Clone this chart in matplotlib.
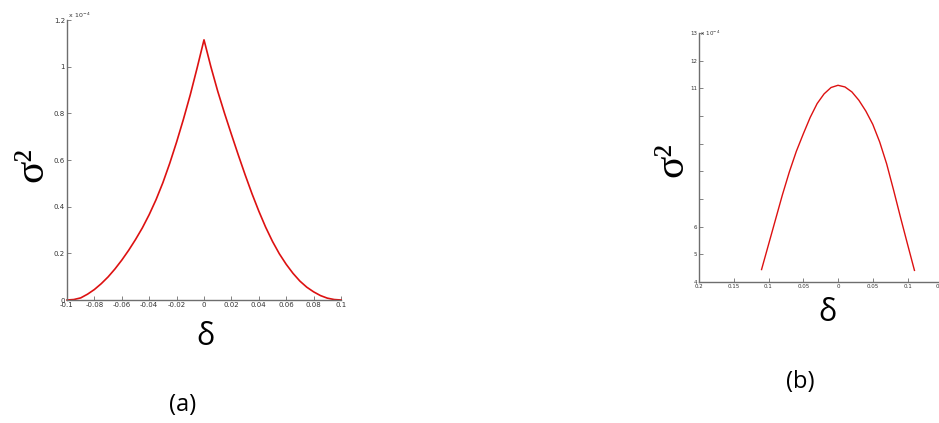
import numpy as np
import matplotlib
matplotlib.use("Agg")
import matplotlib.pyplot as plt

# panel (a): variance vs delta (units of 1e-4)
delta_a = [-0.1, -0.095, -0.09, -0.085, -0.08, -0.075, -0.07, -0.065, -0.06, -0.055,
           -0.05, -0.045, -0.04, -0.035, -0.03, -0.025, -0.02, -0.015, -0.01, -0.005,
           0.0, 0.005, 0.01, 0.015, 0.02, 0.025, 0.03, 0.035, 0.04, 0.045,
           0.05, 0.055, 0.06, 0.065, 0.07, 0.075, 0.08, 0.085, 0.09, 0.095, 0.1]
sigma2_a = [0.0, 0.002, 0.009, 0.025, 0.045, 0.070, 0.099, 0.133, 0.171, 0.213,
            0.259, 0.309, 0.366, 0.430, 0.503, 0.586, 0.677, 0.775, 0.880, 0.995,
            1.115, 1.000, 0.895, 0.800, 0.710, 0.622, 0.537, 0.456, 0.381, 0.312,
            0.251, 0.198, 0.153, 0.114, 0.081, 0.055, 0.035, 0.019, 0.008, 0.002, 0.0]
xticks_a = [-0.1, -0.08, -0.06, -0.04, -0.02, 0, 0.02, 0.04, 0.06, 0.08, 0.1]
xlabels_a = ['-0.1', '-0.08', '-0.06', '-0.04', '-0.02', '0', '0.02', '0.04', '0.06', '0.08', '0.1']
yticks_a = [0, 0.2, 0.4, 0.6, 0.8, 1.0, 1.2]
ylabels_a = ['0', '0.2', '0.4', '0.6', '0.8', '1', '1.2']

# panel (b)
delta_b = [-0.11, -0.10, -0.09, -0.08, -0.07, -0.06, -0.05, -0.04, -0.03, -0.02, -0.01,
           0.0, 0.01, 0.02, 0.03, 0.04, 0.05, 0.06, 0.07, 0.08, 0.09, 0.10, 0.11]
sigma2_b = [4.45, 5.35, 6.25, 7.15, 7.98, 8.72, 9.35, 9.95, 10.45, 10.8, 11.03,
            11.11, 11.05, 10.87, 10.57, 10.18, 9.7, 9.06, 8.27, 7.32, 6.33, 5.37, 4.42]
xticks_b = [-0.2, -0.15, -0.1, -0.05, 0, 0.05, 0.1, 0.15, 0.2]
xlabels_b = ['0.2', '0.15', '0.1', '0.05', '0', '0.05', '0.1', '0.15', '0.2']
yticks_b = [4, 5, 6, 7, 8, 9, 10, 11, 12, 13]
ylabels_b = ['4', '5', '6', '', '', '', '', '11', '12', '13']

fig = plt.figure(figsize=(9.39, 4.23), dpi=100)
W, H = 939, 423


def px_axes(x0, x1, y_top, y_bot):
    return fig.add_axes([x0 / W, (H - y_bot) / H, (x1 - x0) / W, (y_bot - y_top) / H])


def style(ax):
    for s in ['top', 'right']:
        ax.spines[s].set_visible(False)
    for s in ['left', 'bottom']:
        ax.spines[s].set_color('#6e6e6e')
        ax.spines[s].set_linewidth(1.0)
    ax.tick_params(direction='in', length=3, width=0.6, colors='#6e6e6e',
                   labelsize=5, labelcolor='#333333', pad=1.5)
    ax.set_facecolor('none')


ax1 = px_axes(67, 341, 20, 300)
ax1.plot(delta_a, sigma2_a, color='#dd1111', linewidth=1.2, clip_on=False)
ax1.set_xlim(-0.1, 0.1)
ax1.set_ylim(0, 1.2)
ax1.set_xticks(xticks_a)
ax1.set_xticklabels(xlabels_a)
ax1.set_yticks(yticks_a)
ax1.set_yticklabels(ylabels_a)
style(ax1)
ax1.text(0.0, 1.0, ' x 10$^{-4}$', transform=ax1.transAxes, fontsize=4.5,
         color='#333333', va='bottom', ha='left')

ax2 = px_axes(699, 977, 33, 282)
ax2.plot(delta_b, sigma2_b, color='#dd1111', linewidth=1.0)
ax2.set_xlim(-0.2, 0.2)
ax2.set_ylim(4, 13)
ax2.set_xticks(xticks_b)
ax2.set_xticklabels(xlabels_b)
ax2.set_yticks(yticks_b)
ax2.set_yticklabels(ylabels_b)
style(ax2)
ax2.tick_params(labelsize=4)
ax2.text(0.0, 1.0, ' x 10$^{-4}$', transform=ax2.transAxes, fontsize=4,
         color='#333333', va='center', ha='left')

# big labels
fig.text(32 / W, 1 - 165 / H, 'σ²', fontsize=30, rotation=90,
         family='Liberation Serif', ha='center', va='center')
fig.text(205 / W, 1 - 337 / H, 'δ', fontsize=22, family='Open Sans',
         ha='center', va='center')
fig.text(183 / W, 1 - 405 / H, '(a)', fontsize=17, family='Open Sans',
         ha='center', va='center')

fig.text(672 / W, 1 - 160 / H, 'σ²', fontsize=30, rotation=90,
         family='Liberation Serif', ha='center', va='center')
fig.text(827 / W, 1 - 313 / H, 'δ', fontsize=22, family='Open Sans',
         ha='center', va='center')
fig.text(800 / W, 1 - 382 / H, '(b)', fontsize=17, family='Open Sans',
         ha='center', va='center')

fig.savefig('out.png', dpi=100, facecolor='white')
